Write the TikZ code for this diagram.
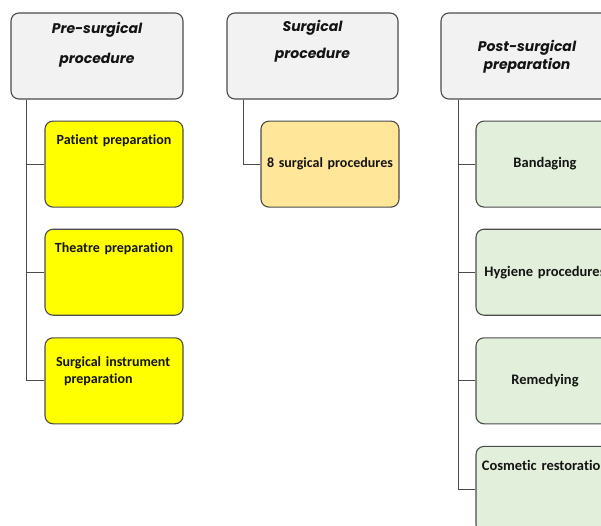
\documentclass[tikz,border=0pt]{standalone}
\usepackage{fontspec}
\setmainfont{Carlito}[Ligatures=NoCommon]
\newfontfamily\headfont{Poppins}
\usetikzlibrary{positioning}

\definecolor{headfill}{RGB}{242,242,242}
\definecolor{linegray}{RGB}{75,75,75}
\definecolor{taskyellow}{RGB}{255,255,0}
\definecolor{taskorange}{RGB}{255,230,153}
\definecolor{taskgreen}{RGB}{226,239,218}
\definecolor{inkblack}{RGB}{20,20,20}

\begin{document}
\begin{tikzpicture}[x=1pt, y=1pt, node distance=21pt,
    head/.style={draw=linegray, line width=1.1pt, fill=headfill, rounded corners=8pt, minimum width=172pt, minimum height=86pt, text width=164pt, inner sep=4pt, align=center, text=inkblack, font=\headfont\bfseries\itshape\fontsize{14}{16.8}\selectfont},
    task/.style={draw=linegray, line width=1.1pt, rounded corners=8pt, minimum width=138pt, minimum height=86pt, text width=130pt, inner sep=4pt, align=center, text=inkblack, font=\bfseries\fontsize{14}{16.8}\selectfont},
    toptask/.style={task, text height=19pt, text depth=59pt},
    greentask/.style={task, fill=taskgreen, font=\bfseries\fontsize{14.5}{17.4}\selectfont},
    conn/.style={draw=linegray, line width=1.1pt}]

  \useasboundingbox (0,0) rectangle (601,-525);

  % headers
  \node[head, text height=16pt, text depth=62pt] (pre) at (97,-56) {Pre-surgical\\[13.2pt]procedure};
  \node[head, minimum width=171pt, text width=163pt, text height=14pt, text depth=64pt] (sur) at (312.5,-56) {Surgical\\[10.2pt]procedure};
  \node[head, text height=34pt, text depth=44pt] (post) at (527,-56) {Post-surgical\\[1.8pt]preparation};

  % pre-surgical
  \node[toptask, fill=taskyellow, below right=21pt and 34pt of pre.south west] (pat) {Patient preparation};
  \node[toptask, fill=taskyellow, below=21pt of pat] (the) {Theatre preparation};
  \node[task, fill=taskyellow, below=21.5pt of the, align=left, text height=25pt, text depth=53pt] (ins) {\hspace*{7pt}Surgical instrument\\[0.2pt]\hspace*{15pt}preparation};

  % surgical
  \node[task, fill=taskorange, below right=21pt and 34pt of sur.south west] (eig) {8 surgical procedures};

  % post-surgical
  \node[greentask, below right=21pt and 35pt of post.south west] (ban) {Bandaging};
  \node[greentask, below=21pt of ban] (hyg) {Hygiene procedures};
  \node[greentask, below=21.5pt of hyg] (rem) {Remedying};
  \node[greentask, below=21.5pt of rem, text height=20pt, text depth=58pt] (cos) {Cosmetic restoration};

  \coordinate (pretrunk) at ([xshift=16pt]pre.south west);
  \coordinate (surtrunk) at ([xshift=17pt]sur.south west);
  \coordinate (posttrunk) at ([xshift=18pt]post.south west);

  \path[conn]
    (pretrunk) |- (ins.west)
    (pretrunk |- pat.west) -- (pat.west)
    (pretrunk |- the.west) -- (the.west)
    (surtrunk) |- (eig.west)
    (posttrunk) |- (cos.west)
    (posttrunk |- ban.west) -- (ban.west)
    (posttrunk |- hyg.west) -- (hyg.west)
    (posttrunk |- rem.west) -- (rem.west);
\end{tikzpicture}
\end{document}
